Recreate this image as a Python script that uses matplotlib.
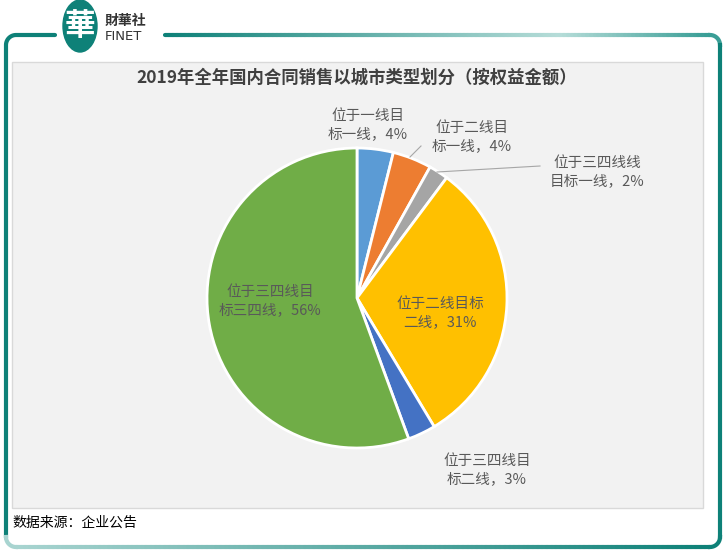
import numpy as np
import matplotlib.pyplot as plt
from matplotlib.patches import FancyBboxPatch, Ellipse, Rectangle
from matplotlib.collections import LineCollection

plt.rcParams['font.family'] = ['Noto Sans CJK SC', 'DejaVu Sans']

# 数据
title = '2019年全年国内合同销售以城市类型划分（按权益金额）'
names = ['位于一线目\n标一线', '位于二线目\n标一线', '位于三四线线\n目标一线',
         '位于二线目标\n二线', '位于三四线目\n标二线', '位于三四线目\n标三四线']
values = [3.9, 4.2, 2.1, 31.2, 3.0, 55.6]
colors = ['#5B9BD5', '#ED7D31', '#A5A5A5', '#FFC000', '#4472C4', '#70AD47']
source = '数据来源：企业公告'

W, H = 726, 551
fig = plt.figure(figsize=(W / 100, H / 100), dpi=100)
ax = fig.add_axes([0, 0, 1, 1])


def py(y):
    # 像素 y（自上而下）转为坐标
    return H - y


teal = '#0E8178'

# 外框（渐变）
def grad_line(xs, ys, c0, c1, lw=3):
    pts = np.column_stack([xs, ys])
    segs = np.stack([pts[:-1], pts[1:]], axis=1)
    t = np.linspace(0, 1, len(segs))
    cmap = plt.matplotlib.colors.LinearSegmentedColormap.from_list('g', [c0, c1])
    lc = LineCollection(segs, colors=cmap(t), linewidths=lw, capstyle='round')
    ax.add_collection(lc)


r = 10
# 左边 + 左上角
th = np.linspace(np.pi, np.pi / 2, 20)
ax.plot(np.r_[6, 6 + r + r * np.cos(th), 55], np.r_[py(538), py(35 + r) + r * np.sin(th), py(35)],
        color=teal, lw=3, solid_capstyle='round')
# 顶边
xs = np.linspace(165, 560, 100)
grad_line(xs, np.full_like(xs, py(35)), teal, '#B5DCD8')
xs = np.linspace(560, 710, 40)
grad_line(xs, np.full_like(xs, py(35)), '#B5DCD8', '#3A9E96')
th = np.linspace(np.pi / 2, 0, 20)
ax.plot(710 + r * np.cos(th), py(35 + r) + r * np.sin(th), color='#3A9E96', lw=3)
ax.plot([720, 720], [py(45), py(537)], color=teal, lw=3)
th = np.linspace(0, -np.pi / 2, 20)
ax.plot(710 + r * np.cos(th), py(537) + r * np.sin(th), color=teal, lw=3)
xs = np.linspace(16, 710, 150)
grad_line(xs, np.full_like(xs, py(547)), '#A8D4D0', teal)
th = np.linspace(-np.pi / 2, -np.pi, 20)
ax.plot(16 + r * np.cos(th), py(537) + r * np.sin(th), color='#A8D4D0', lw=3)

# 标志
ax.add_patch(Ellipse((80, py(26)), 34, 52, color=teal))
ax.text(80, py(26), '華', color='white', fontsize=22, ha='center', va='center', fontweight='bold')
ax.text(105, py(21), '財華社', color='#333333', fontsize=10, ha='left', va='center', fontweight='bold')
ax.text(105, py(37), 'FINET', color='#333333', fontsize=9.5, ha='left', va='center', family='DejaVu Sans')

# 灰色面板
ax.add_patch(Rectangle((12, py(508)), 691, 446, facecolor='#F2F2F2', edgecolor='#D9D9D9', lw=1))

# 标题
ax.text(357, py(78), title, fontsize=12.5, color='#404040', ha='center', va='center', fontweight='bold')

# 饼图
cx, cy, R = 357, py(298), 150
wedges, _ = ax.pie(values, colors=colors, startangle=90, counterclock=False,
                   center=(cx, cy), radius=R,
                   wedgeprops=dict(edgecolor='white', linewidth=2))

labels = [f'{n}，{v:.0f}%' for n, v in zip(names, values)]
label_pos = [(368, 125), (472, 137), (597, 172), (440, 313), (487, 470), (270, 301)]
for lab, (x, y) in zip(labels, label_pos):
    ax.text(x, py(y), lab, fontsize=10.5, color='#595959', ha='center', va='center',
            linespacing=1.45)

# 引导线
ax.plot([410, 421], [py(157), py(146)], color='#A6A6A6', lw=0.8)
ax.plot([437, 540], [py(172), py(166)], color='#A6A6A6', lw=0.8)

# 来源
ax.text(12, py(523), source, fontsize=10, color='black', ha='left', va='center')

ax.set_xlim(0, W)
ax.set_ylim(0, H)
ax.set_aspect('auto')
ax.axis('off')

fig.savefig('out.png', dpi=100)
